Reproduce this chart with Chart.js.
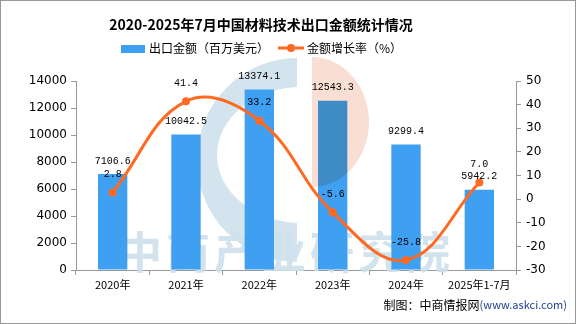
<!DOCTYPE html>
<html>
<head>
<meta charset="utf-8">
<script src="https://cdn.jsdelivr.net/npm/chart.js@4.4.0/dist/chart.umd.min.js"></script>
<style>
  html, body { margin: 0; padding: 0; background: #fff; }
  #wrap { width: 576px; height: 324px; }
</style>
</head>
<body>
<div id="wrap"><canvas id="c" width="576" height="324"></canvas></div>
<script>
// ============ Data ============
const YEARS = ["2020年", "2021年", "2022年", "2023年", "2024年", "2025年1-7月"];
const EXPORT_VALUE = [7106.6, 10042.5, 13374.1, 12543.3, 9299.4, 5942.2];   // 百万美元
const GROWTH = [2.8, 41.4, 33.2, -5.6, -25.8, 7.0];                         // %
const LEFT_TICKS = [0, 2000, 4000, 6000, 8000, 10000, 12000, 14000];
const RIGHT_TICKS = [-30, -20, -10, 0, 10, 20, 30, 40, 50];

const TITLE = "2020-2025年7月中国材料技术出口金额统计情况";
const BAR_NAME = "出口金额（百万美元）";
const LINE_NAME = "金额增长率（%）";

// ============ Style ============
const BLUE = "#3f9ff0";
const ORANGE = "#ff6a22";
const AXIS = "#999999";
const CJK = "'Noto Sans CJK SC', 'Noto Sans', sans-serif";
const NUM = "'DejaVu Sans', sans-serif";

// background watermark (blue C + text), behind the bars; pink half disc over bars
const watermark = {
  id: "watermark",
  beforeDatasetsDraw(chart) {
    const ctx = chart.ctx;
    ctx.save();
    ctx.fillStyle = "#d3e4ee";
    ctx.beginPath();
    ctx.rect(0, 0, 297, 324);
    ctx.clip();
    ctx.beginPath();
    ctx.ellipse(297, 160, 100, 102, 0, 0, Math.PI * 2);
    ctx.ellipse(302, 155, 85, 68, 0, 0, Math.PI * 2, true);
    ctx.fill("evenodd");
    ctx.restore();

    ctx.save();
    ctx.fillStyle = "rgba(205,224,236,0.9)";
    ctx.font = "bold 44px " + CJK;
    ctx.textAlign = "left";
    ctx.textBaseline = "middle";
    ctx.letterSpacing = "4px";
    ctx.fillText("中商产业研究院", 118, 252);
    ctx.restore();
  },
  afterDatasetDraw(chart, args) {
    if (args.meta.type !== "bar") return;
    const ctx = chart.ctx;
    ctx.save();
    ctx.globalCompositeOperation = "multiply";
    ctx.fillStyle = "#f9dfd3";
    ctx.beginPath();
    ctx.ellipse(312, 122, 57, 65, 0, -Math.PI / 2, Math.PI / 2);
    ctx.closePath();
    ctx.fill();
    ctx.restore();
  }
};

// value labels, title, legend, footer, frame
const decorations = {
  id: "decorations",
  afterDatasetsDraw(chart) {
    const ctx = chart.ctx;
    ctx.save();
    ctx.fillStyle = "#000";
    ctx.font = "10px 'Liberation Mono', monospace";
    ctx.textAlign = "center";
    ctx.textBaseline = "middle";
    chart.getDatasetMeta(1).data.forEach((bar, i) => {
      ctx.fillText(EXPORT_VALUE[i].toFixed(1), bar.x, bar.y - 13);
    });
    chart.getDatasetMeta(0).data.forEach((pt, i) => {
      ctx.fillText(GROWTH[i].toFixed(1), pt.x, pt.y - 18);
    });
    ctx.restore();
  },
  afterDraw(chart) {
    const ctx = chart.ctx;
    ctx.save();
    // title
    ctx.fillStyle = "#000";
    ctx.font = "bold 14px " + CJK;
    ctx.textAlign = "center";
    ctx.textBaseline = "middle";
    ctx.fillText(TITLE, 261, 25);

    // legend
    ctx.font = "12px " + CJK;
    ctx.textAlign = "left";
    ctx.fillStyle = BLUE;
    ctx.fillRect(121, 45, 24, 8);
    ctx.fillStyle = "#000";
    ctx.fillText(BAR_NAME, 149, 48);
    ctx.strokeStyle = ORANGE;
    ctx.lineWidth = 3;
    ctx.beginPath();
    ctx.moveTo(278, 48);
    ctx.lineTo(304, 48);
    ctx.stroke();
    ctx.fillStyle = ORANGE;
    ctx.beginPath();
    ctx.arc(291, 48, 4, 0, Math.PI * 2);
    ctx.fill();
    ctx.fillStyle = "#000";
    ctx.fillText(LINE_NAME, 307, 48);

    // footer
    ctx.textAlign = "right";
    ctx.font = "11px " + CJK;
    ctx.fillStyle = "#1d3f8f";
    const src = "(www.askci.com)";
    ctx.fillText(src, 567, 305);
    const w = ctx.measureText(src).width;
    ctx.font = "12px " + CJK;
    ctx.fillStyle = "#000";
    ctx.fillText("制图：中商情报网", 567 - w, 305);

    // frame
    ctx.strokeStyle = "#999";
    ctx.lineWidth = 1;
    ctx.strokeRect(0.5, 0.5, 575, 323);
    ctx.restore();
  }
};

// ============ Chart ============
const chart = new Chart(document.getElementById("c"), {
  data: {
    labels: YEARS,
    datasets: [
      {
        type: "line",
        label: LINE_NAME,
        data: GROWTH,
        yAxisID: "y1",
        borderColor: ORANGE,
        backgroundColor: ORANGE,
        borderWidth: 3,
        tension: 0.4,
        pointRadius: 4,
        pointBackgroundColor: ORANGE,
        pointBorderWidth: 0,
        order: 0
      },
      {
        type: "bar",
        label: BAR_NAME,
        data: EXPORT_VALUE,
        yAxisID: "y",
        backgroundColor: BLUE,
        barPercentage: 0.4,
        categoryPercentage: 1,
        order: 1
      }
    ]
  },
  options: {
    responsive: false,
    animation: false,
    layout: { padding: { top: 81, left: 0, right: 0, bottom: 0 } },
    plugins: {
      legend: { display: false },
      title: { display: false },
      tooltip: { enabled: false }
    },
    scales: {
      x: {
        afterFit: (s) => { s.height = 54; },
        grid: { display: true, drawOnChartArea: false, drawTicks: true, tickLength: 5, color: AXIS, offset: true },
        border: { color: AXIS },
        ticks: { color: "#000", font: { family: CJK, size: 11 }, padding: 3, maxRotation: 0, autoSkip: false }
      },
      y: {
        position: "left",
        min: 0, max: 14000,
        afterFit: (s) => { s.width = 76; },
        afterBuildTicks: (s) => { s.ticks = LEFT_TICKS.map(v => ({ value: v })); },
        grid: { display: true, drawOnChartArea: false, drawTicks: true, tickLength: 5, color: AXIS },
        border: { color: AXIS },
        ticks: { color: "#000", font: { family: NUM, size: 12 }, padding: 4, callback: (v) => String(v) }
      },
      y1: {
        position: "right",
        min: -30, max: 50,
        afterFit: (s) => { s.width = 60; },
        afterBuildTicks: (s) => { s.ticks = RIGHT_TICKS.map(v => ({ value: v })); },
        grid: { display: true, drawOnChartArea: false, drawTicks: true, tickLength: 5, color: AXIS },
        border: { color: AXIS },
        ticks: { color: "#000", font: { family: NUM, size: 12 }, padding: 5, callback: (v) => String(v) }
      }
    }
  },
  plugins: [watermark, decorations]
});
</script>
</body>
</html>
